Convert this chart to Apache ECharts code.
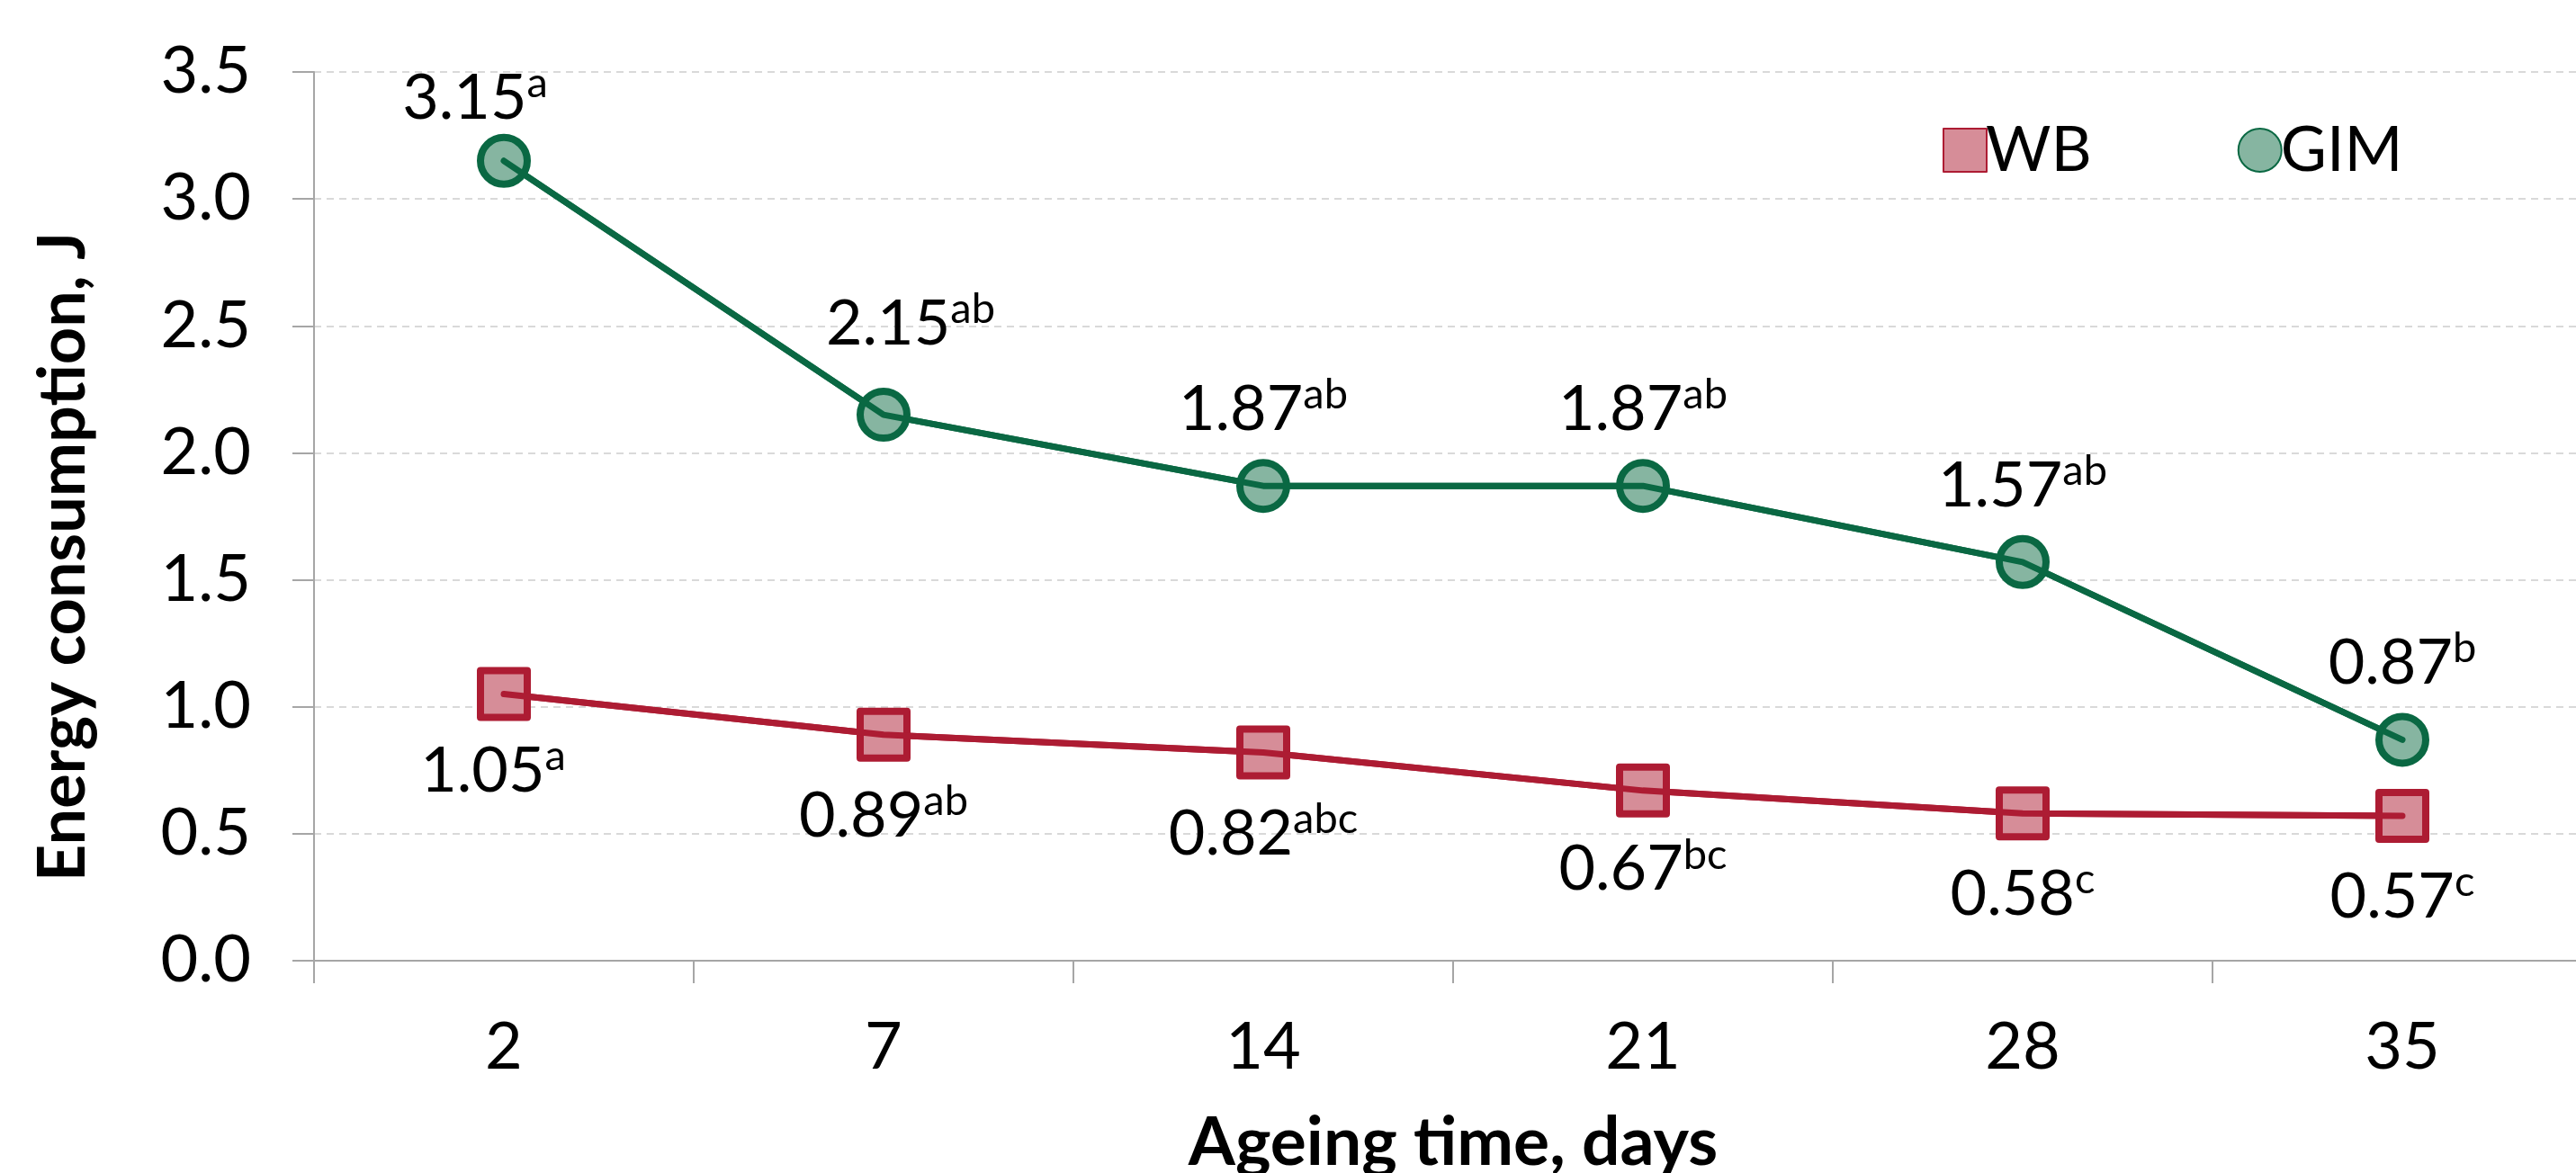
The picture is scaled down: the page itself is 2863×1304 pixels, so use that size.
<!DOCTYPE html>
<html>
<head>
<meta charset="utf-8">
<script src="https://cdn.jsdelivr.net/npm/echarts@6/dist/echarts.min.js"></script>
<style>
html,body{margin:0;padding:0;background:#fff;}
#chart{width:2863px;height:1304px;}
</style>
</head>
<body>
<div id="chart"></div>
<script>
// ---- data ----
var categories = ['2', '7', '14', '21', '28', '35'];
var wbValues = [1.05, 0.89, 0.82, 0.67, 0.58, 0.57];
var gimValues = [3.15, 2.15, 1.87, 1.87, 1.57, 0.87];
var wbLetters = ['a', 'ab', 'abc', 'bc', 'c', 'c'];
var gimLetters = ['a', 'ab', 'ab', 'ab', 'ab', 'b'];
var yTicks = [0, 0.5, 1, 1.5, 2, 2.5, 3, 3.5];

// ---- layout/style constants (label nudges, px) ----
var wbLabelDx = [-12, 0, 0, 0, 0, 0];
var wbLabelDy = [86, 91, 91, 88, 90, 90];
var gimLabelDx = [-32, 30, 0, 0, 0, 0];
var gimLabelDy = [-69, -101, -85, -85, -84, -85];

var FONT = 'Lato';
var RED = '#AD1C33', RED_FILL = '#D68D98';
var GREEN = '#0A6843', GREEN_FILL = '#86B5A1';

function buildItems(values, dx, dy) {
  return values.map(function (v, i) {
    return { value: v, label: { offset: [dx[i], dy[i]] } };
  });
}
function labelFormatter(letters) {
  return function (p) {
    return '{v|' + Number(p.value).toFixed(2) + '}{s|' + letters[p.dataIndex] + '}';
  };
}
var richStyle = {
  v: { fontFamily: FONT, fontSize: 70, color: '#000', lineHeight: 80 },
  s: { fontFamily: FONT, fontSize: 47, color: '#000', verticalAlign: 'top', lineHeight: 44 }
};

var chart = echarts.init(document.getElementById('chart'), null, { renderer: 'canvas' });
var option = {
  animation: false,
  backgroundColor: '#fff',
  grid: { left: 349, top: 80, right: -18, bottom: 236, containLabel: false, outerBoundsMode: 'none' },
  legend: {
    data: ['WB', 'GIM'],
    left: 2154, top: 127,
    itemWidth: 36, itemHeight: 60, itemGap: 162,
    textStyle: { fontFamily: FONT, fontSize: 70, color: '#000' }
  },
  xAxis: {
    type: 'category',
    data: categories,
    boundaryGap: true,
    name: 'Ageing time, days',
    nameLocation: 'middle',
    nameGap: 165,
    nameTextStyle: { fontFamily: FONT, fontSize: 75, fontWeight: 'bold', color: '#000' },
    axisLine: { lineStyle: { color: '#A6A6A6', width: 2 } },
    axisTick: { show: true, length: 25, lineStyle: { color: '#A6A6A6', width: 2 } },
    axisLabel: { fontFamily: FONT, fontSize: 72, color: '#000', margin: 61 },
    splitLine: { show: false }
  },
  yAxis: {
    type: 'value',
    min: yTicks[0], max: yTicks[yTicks.length - 1], interval: 0.5,
    name: 'Energy consumption, J',
    nameLocation: 'middle',
    nameRotate: 90,
    nameGap: 242,
    nameTextStyle: { fontFamily: FONT, fontSize: 72, fontWeight: 'bold', color: '#000', padding: [0, 90, 0, 0] },
    axisLine: { show: true, lineStyle: { color: '#A6A6A6', width: 2 } },
    axisTick: { show: true, length: 24, lineStyle: { color: '#A6A6A6', width: 2 } },
    axisLabel: { fontFamily: FONT, fontSize: 72, color: '#000', margin: 70,
      formatter: function (v) { return v.toFixed(1); } },
    splitLine: { show: true, lineStyle: { color: '#D9D9D9', width: 2, type: [8, 6] } }
  },
  series: [
    {
      name: 'WB', type: 'line',
      data: buildItems(wbValues, wbLabelDx, wbLabelDy),
      symbol: 'rect', symbolSize: 52,
      lineStyle: { color: RED, width: 7 },
      itemStyle: { color: RED_FILL, borderColor: RED, borderWidth: 8, borderJoin: 'round' },
      label: { show: true, position: 'inside', formatter: labelFormatter(wbLetters), rich: richStyle },
      z: 3
    },
    {
      name: 'GIM', type: 'line',
      data: buildItems(gimValues, gimLabelDx, gimLabelDy),
      symbol: 'circle', symbolSize: 52,
      lineStyle: { color: GREEN, width: 7 },
      itemStyle: { color: GREEN_FILL, borderColor: GREEN, borderWidth: 8 },
      label: { show: true, position: 'inside', formatter: labelFormatter(gimLetters), rich: richStyle },
      z: 3
    },
    {
      name: 'WB line', type: 'line', data: wbValues, showSymbol: false, silent: true,
      lineStyle: { color: RED, width: 7, cap: 'round' }, z: 4
    },
    {
      name: 'GIM line', type: 'line', data: gimValues, showSymbol: false, silent: true,
      lineStyle: { color: GREEN, width: 7, cap: 'round' }, z: 4
    }
  ]
};
chart.setOption(option);
</script>
</body>
</html>
